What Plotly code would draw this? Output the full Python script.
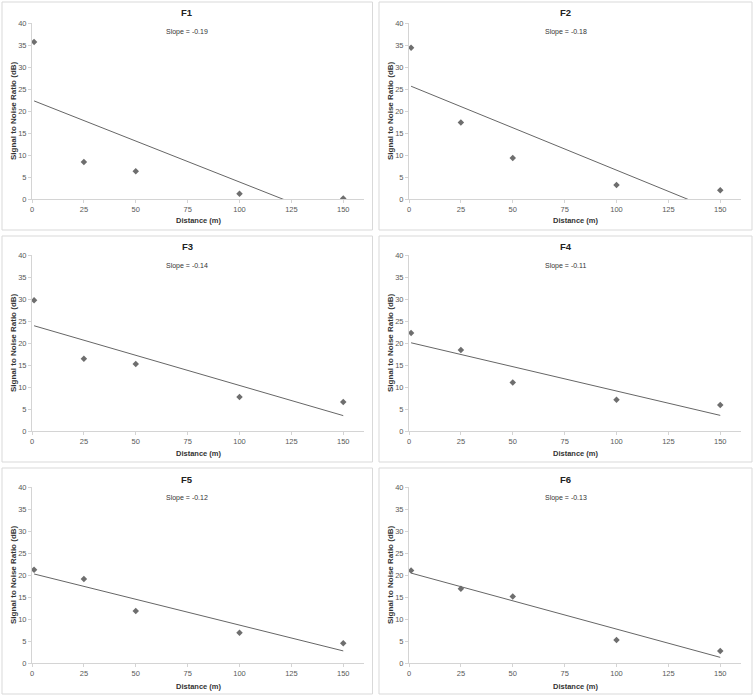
import numpy as np
import plotly.graph_objects as go

W, H = 754, 696

distance = [1, 25, 50, 100, 150]
panel_names = ["F1", "F2", "F3", "F4", "F5", "F6"]
snr_F1 = [35.7, 8.4, 6.3, 1.2, 0.1]
snr_F2 = [34.4, 17.4, 9.3, 3.2, 2.0]
snr_F3 = [29.7, 16.4, 15.2, 7.7, 6.6]
snr_F4 = [22.3, 18.4, 11.0, 7.1, 5.9]
snr_F5 = [21.2, 19.1, 11.8, 6.9, 4.5]
snr_F6 = [21.0, 16.9, 15.1, 5.2, 2.7]
slope_labels = ["Slope = -0.19", "Slope = -0.18", "Slope = -0.14",
                "Slope = -0.11", "Slope = -0.12", "Slope = -0.13"]
x_ticks = [0, 25, 50, 75, 100, 125, 150]
y_ticks = [0, 5, 10, 15, 20, 25, 30, 35, 40]
series = [snr_F1, snr_F2, snr_F3, snr_F4, snr_F5, snr_F6]

FONT = "Liberation Sans, Arial, sans-serif"
AXC = "#d4d4d4"
TXT = "#595959"

# pixel layout
col_plot = [(32, 364), (409, 741)]
row_plot = [(23, 199), (255, 431), (487, 663)]
col_box = [(2, 372.5), (379, 752)]
row_box = [(2, 230), (236, 462), (468, 694)]

def px(x):
    return x / W

def py(y):
    return 1 - y / H

fig = go.Figure()
annotations = []
shapes = []

def note(text, x, y, size, angle=0, color="#333333"):
    annotations.append(dict(text=text, xref="paper", yref="paper",
                            x=px(x), y=py(y), xanchor="center", yanchor="middle",
                            textangle=angle, showarrow=False,
                            font=dict(family=FONT, size=size, color=color)))

for i, (name, ys) in enumerate(zip(panel_names, series)):
    r, c = divmod(i, 2)
    k = i + 1
    xa = "x" if k == 1 else f"x{k}"
    ya = "y" if k == 1 else f"y{k}"
    fig.add_trace(go.Scatter(
        x=distance, y=ys, mode="markers", xaxis=xa, yaxis=ya,
        marker=dict(symbol="diamond", size=5, color="#6e6e6e"),
        showlegend=False, hoverinfo="x+y"))
    m, b = np.polyfit(distance, ys, 1)
    xs = np.array([distance[0], distance[-1]])
    fig.add_trace(go.Scatter(
        x=xs, y=m * xs + b, mode="lines", xaxis=xa, yaxis=ya,
        line=dict(color="#666666", width=1),
        showlegend=False, hoverinfo="skip"))

    x0, x1 = col_plot[c]
    y0, y1 = row_plot[r]
    common = dict(showline=True, linecolor=AXC, linewidth=1, ticks="outside",
                  tickcolor=AXC, ticklen=3, showgrid=False, zeroline=False,
                  tickfont=dict(family=FONT, size=7.5, color=TXT), fixedrange=True,
                  automargin=False)
    fig.update_layout(**{
        ("xaxis" if k == 1 else f"xaxis{k}"): dict(
            domain=[px(x0), px(x1)], range=[0, 160], tickvals=x_ticks,
            anchor=ya, **common),
        ("yaxis" if k == 1 else f"yaxis{k}"): dict(
            domain=[py(y1), py(y0)], range=[0, 40], tickvals=y_ticks,
            anchor=xa, ticklabelstandoff=0, **common),
    })

    bx0, bx1 = col_box[c]
    by0, by1 = row_box[r]
    shapes.append(dict(type="rect", xref="paper", yref="paper",
                       x0=px(bx0), x1=px(bx1), y0=py(by1), y1=py(by0),
                       line=dict(color="#d9d9d9", width=1), layer="below"))
    cx = (bx0 + bx1) / 2
    note(f"<b>{name}</b>", cx, by0 + 11, 9.5, color="#222222")
    note(slope_labels[i], cx, by0 + 30, 7)
    note("<b>Distance (m)</b>", (x0 + x1) / 2 + 1, by0 + 218, 7.5)
    note("<b>Signal to Noise Ratio (dB)</b>", bx0 + 11, (y0 + y1) / 2, 8, angle=-90)

fig.update_layout(width=W, height=H, margin=dict(l=0, r=0, t=0, b=0, pad=0),
                  autosize=False,
                  paper_bgcolor="white", plot_bgcolor="white",
                  annotations=annotations, shapes=shapes, showlegend=False)

fig.write_html("out.html", config={"responsive": False, "displayModeBar": False},
               post_script="document.body.style.margin='0';document.body.style.overflow='hidden';")
